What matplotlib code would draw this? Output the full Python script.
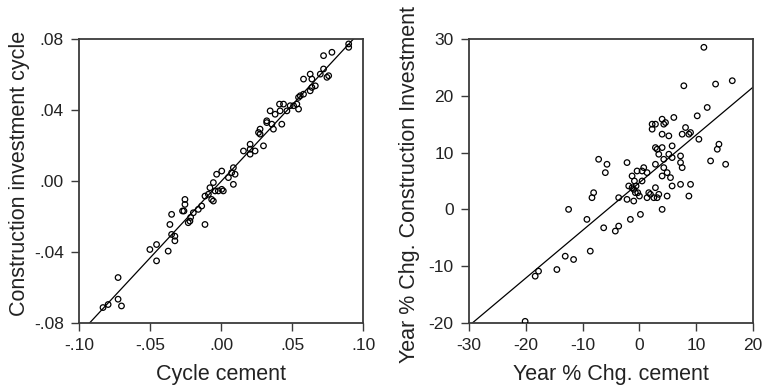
import numpy as np
import matplotlib
matplotlib.use("Agg")
import matplotlib.pyplot as plt

plt.rcParams['font.family'] = ['Liberation Sans', 'DejaVu Sans']
plt.rcParams['axes.unicode_minus'] = False

# left panel: cycle components
cycle_cement = [-0.0831, -0.0795, -0.0725, -0.0725, -0.0701, -0.0501, -0.0454, -0.0454, -0.0372, -0.0360,
                -0.0348, -0.0348, -0.0325, -0.0325, -0.0271, -0.0261, -0.0254, -0.0254, -0.0231, -0.0219,
                -0.0214, -0.0195, -0.0160, -0.0136, -0.0113, -0.0113, -0.0089, -0.0078, -0.0066, -0.0054,
                -0.0054, -0.0042, -0.0031, -0.0019, 0.0005, 0.0005, 0.0016, 0.0052, 0.0075, 0.0087,
                0.0087, 0.0099, 0.0158, 0.0205, 0.0205, 0.0205, 0.0240, 0.0264, 0.0275, 0.0275,
                0.0299, 0.0322, 0.0322, 0.0346, 0.0358, 0.0369, 0.0381, 0.0412, 0.0416, 0.0428,
                0.0440, 0.0464, 0.0487, 0.0511, 0.0534, 0.0546, 0.0546, 0.0558, 0.0581, 0.0581,
                0.0628, 0.0628, 0.0640, 0.0640, 0.0664, 0.0699, 0.0722, 0.0722, 0.0746, 0.0758,
                0.0781, 0.0899, 0.0899]
cycle_constr = [-0.0713, -0.0696, -0.0544, -0.0666, -0.0704, -0.0386, -0.0358, -0.0450, -0.0395, -0.0245,
                -0.0188, -0.0301, -0.0311, -0.0337, -0.0169, -0.0169, -0.0104, -0.0132, -0.0235, -0.0226,
                -0.0205, -0.0179, -0.0160, -0.0141, -0.0085, -0.0245, -0.0075, -0.0038, -0.0104, -0.0009,
                -0.0113, -0.0056, 0.0038, -0.0056, 0.0056, -0.0047, -0.0056, 0.0019, 0.0047, 0.0075,
                -0.0019, 0.0038, 0.0169, 0.0207, 0.0179, 0.0151, 0.0169, 0.0273, 0.0292, 0.0264,
                0.0198, 0.0339, 0.0329, 0.0395, 0.0320, 0.0292, 0.0376, 0.0433, 0.0395, 0.0320,
                0.0433, 0.0395, 0.0424, 0.0424, 0.0433, 0.0405, 0.0471, 0.0480, 0.0489, 0.0574,
                0.0602, 0.0508, 0.0574, 0.0527, 0.0536, 0.0602, 0.0631, 0.0706, 0.0584, 0.0593,
                0.0725, 0.0753, 0.0772]
cycle_fit = (0.861, -0.0003)  # slope, intercept

# right panel: year-on-year % changes
yoy_cement = [-20.12, -18.35, -17.76, -14.53, -13.06, -12.47, -11.59, -9.24, -8.65, -8.35,
              -8.06, -7.18, -6.29, -6.00, -5.71, -4.24, -3.65, -3.65, -2.18, -2.18,
              -1.88, -1.59, -1.29, -1.29, -1.00, -1.00, -0.88, -0.71, -0.59, -0.41,
              -0.29, 0.00, 0.18, 0.47, 0.47, 0.76, 1.35, 1.35, 1.65, 1.94,
              2.24, 2.24, 2.53, 2.82, 2.82, 2.82, 2.82, 3.12, 3.12, 3.41,
              3.41, 4.00, 4.00, 4.00, 4.00, 4.00, 4.29, 4.29, 4.29, 4.59,
              4.88, 4.88, 5.18, 5.18, 5.47, 5.76, 5.76, 5.76, 6.06, 7.24,
              7.24, 7.24, 7.53, 7.53, 7.82, 8.12, 8.71, 8.71, 9.00, 9.00,
              10.18, 10.47, 11.35, 11.94, 12.53, 13.41, 13.71, 14.00, 15.18, 16.35]
yoy_constr = [-19.71, -11.76, -10.88, -10.59, -8.24, 0.00, -8.82, -1.76, -7.35, 2.06,
              2.94, 8.82, -3.24, 6.47, 7.94, -3.82, -2.94, 2.06, 8.24, 1.76,
              4.12, -1.76, 5.88, 3.82, 3.53, 1.47, 5.00, 2.94, 4.12, 6.76,
              2.94, 2.35, -0.88, 5.00, 6.76, 7.35, 6.47, 2.06, 2.94, 2.65,
              15.00, 14.12, 2.06, 15.00, 10.88, 7.94, 3.82, 10.59, 2.06, 9.71,
              2.65, 15.88, 13.24, 10.88, 5.88, 0.00, 15.00, 8.82, 7.35, 15.29,
              6.47, 2.35, 12.94, 9.71, 5.59, 11.18, 9.12, 4.12, 16.18, 9.41,
              8.24, 4.41, 13.24, 7.35, 21.76, 14.41, 13.24, 2.35, 13.53, 4.41,
              16.47, 12.35, 28.53, 17.94, 8.53, 22.06, 10.59, 11.47, 7.94, 22.65]
yoy_fit = (0.84, 4.71)

left_xticks = [-0.10, -0.05, 0.00, 0.05, 0.10]
left_xlabels = ['-.10', '-.05', '.00', '.05', '.10']
left_yticks = [-0.08, -0.04, 0.00, 0.04, 0.08]
left_ylabels = ['-.08', '-.04', '.00', '.04', '.08']
right_xticks = [-30, -20, -10, 0, 10, 20]
right_yticks = [-20, -10, 0, 10, 20, 30]

fig = plt.figure(figsize=(7.62, 3.87), dpi=100)
ax1 = fig.add_axes([0.1037, 0.1654, 0.3727, 0.7339])
ax2 = fig.add_axes([0.6155, 0.1654, 0.3727, 0.7339])

spine_col = '#3a3a3a'
text_col = '#222222'


def draw(ax, x, y, fit, xlim, ylim):
    ax.scatter(x, y, s=16, facecolors='none', edgecolors='black', linewidths=0.9, zorder=3)
    xs = np.array(xlim)
    ax.plot(xs, fit[0] * xs + fit[1], color='black', lw=0.9, zorder=2)
    ax.set_xlim(xlim)
    ax.set_ylim(ylim)
    for s in ax.spines.values():
        s.set_color(spine_col)
        s.set_linewidth(1.3)
    ax.tick_params(direction='out', length=6, width=1, color=spine_col,
                   labelsize=12.5, labelcolor=text_col, pad=5)


draw(ax1, cycle_cement, cycle_constr, cycle_fit, (-0.10, 0.10), (-0.08, 0.08))
ax1.set_xticks(left_xticks, left_xlabels)
ax1.set_yticks(left_yticks, left_ylabels)
ax1.set_xlabel('Cycle cement', fontsize=15.5, color=text_col, labelpad=8)
ax1.set_ylabel('Construction investment cycle', fontsize=15.5, color=text_col)
ax1.yaxis.set_label_coords(-0.174, 0.528)

draw(ax2, yoy_cement, yoy_constr, yoy_fit, (-30, 20), (-20, 30))
ax2.set_xticks(right_xticks)
ax2.set_yticks(right_yticks)
ax2.set_xlabel('Year % Chg. cement', fontsize=15.5, color=text_col, labelpad=8)
ax2.set_ylabel('Year % Chg. Construction Investment', fontsize=15.5, color=text_col)
ax2.yaxis.set_label_coords(-0.171, 0.486)

fig.savefig('out.png', dpi=100)
